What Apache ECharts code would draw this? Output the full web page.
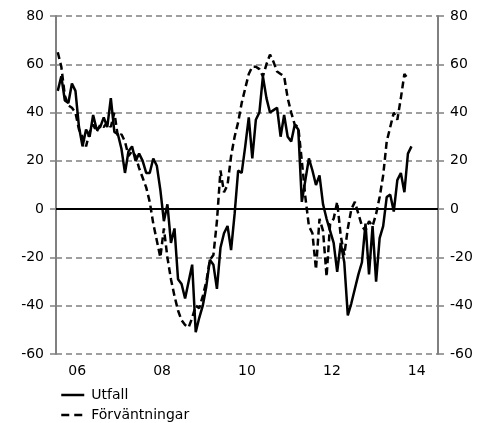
<!DOCTYPE html>
<html>
<head>
<meta charset="utf-8">
<script src="https://cdn.jsdelivr.net/npm/echarts@6/dist/echarts.min.js"></script>
<style>
  html, body { margin: 0; padding: 0; background: #fff; }
  #chart { width: 489px; height: 423px; }
</style>
</head>
<body>
<div id="chart"></div>
<script>
// year labels under the axis (one category per year)
const years = ['06', '07', '08', '09', '10', '11', '12', '13', '14']

// monthly values from Jan 2006
const utfall = [
  49, 55, 45, 44, 52, 49, 34, 26, 33, 30, 39, 33,
  34, 38, 34, 46, 32, 31, 25, 15, 24, 26, 20, 23,
  20, 15, 15, 21, 18, 8, -5, 2, -14, -8, -29, -31,
  -37, -30, -23, -51, -45, -40, -32, -21, -23, -33, -16, -10,
  -7, -17, -2, 16, 15, 26, 38, 21, 37, 40, 55, 46,
  40, 41, 42, 30, 39, 30, 28, 35, 33, 3, 12, 21,
  16, 10, 14, 2, -4, -9, -14, -26, -14, -22, -44, -39,
  -33, -27, -22, -6, -27, -7, -30, -12, -7, 5, 6, -1,
  12, 15, 7, 23, 26
]
const forvantningar = [
  65, 59, 47, 43, 42, 40, 33, 30, 26, 32, 35, 32,
  35, 34, 36, 34, 40, 30, 31, 28, 22, 24, 22, 17,
  13, 9, 3, -6, -13, -20, -8, -20, -29, -36, -42, -46,
  -48, -49, -45, -40, -41, -36, -30, -21, -19, -5, 16, 7,
  10, 22, 30, 36, 44, 50, 56, 59, 59, 58, 55, 60,
  64, 61, 57, 56, 55, 46, 40, 35, 34, 20, 5, -7,
  -10, -25, -4, -9, -28, -6, -4, 3, -11, -19, -8, 0,
  3, -2, -7, -9, -5, -7, -2, 5, 14, 28, 34, 40,
  37, 46, 56, 54
]

const months = []
years.forEach(y => {
  for (let m = 1; m <= 12; m++) months.push(y + '-' + m)
})

const grey = '#808080'
const font = { fontFamily: 'DejaVu Sans', fontSize: 14, color: '#000' }

// one legend per row, symbol hidden so only the line sample shows
function legendRow(name, top, dash) {
  return {
    left: 60,
    top: top,
    padding: 0,
    itemWidth: 23,
    itemHeight: 14,
    itemGap: 0,
    textStyle: Object.assign({ padding: [0, 0, 0, 2] }, font),
    itemStyle: { opacity: 0 },
    lineStyle: { color: '#000', width: 2.5, type: dash },
    data: [name]
  }
}

const chart = echarts.init(document.getElementById('chart'))
chart.setOption({
  animation: false,
  grid: { left: 56, right: 51, top: 16, bottom: 69 },
  legend: [
    legendRow('Utfall', 388, 'solid'),
    legendRow('Förväntningar', 408, [8, 5])
  ],
  xAxis: [{
    type: 'category',
    data: years,
    boundaryGap: true,
    axisLine: { lineStyle: { color: grey, width: 2 } },
    axisTick: { interval: 0, length: 5, lineStyle: { color: grey, width: 1.5 } },
    axisLabel: Object.assign({ interval: 1, margin: 10 }, font),
    splitLine: { show: false }
  }, {
    type: 'category',
    data: months,
    boundaryGap: true,
    show: false
  }],
  yAxis: [{
    type: 'value',
    min: -60,
    max: 80,
    interval: 20,
    axisLine: { show: true, lineStyle: { color: grey, width: 2 } },
    axisTick: { show: true, length: 6, lineStyle: { color: grey, width: 1.5 } },
    axisLabel: Object.assign({ margin: 12 }, font),
    splitLine: { lineStyle: { color: grey, width: 1.5, type: [6, 4] } }
  }, {
    type: 'value',
    position: 'right',
    min: -60,
    max: 80,
    interval: 20,
    axisLine: { show: true, lineStyle: { color: grey, width: 2 } },
    axisTick: { show: true, length: 6, lineStyle: { color: grey, width: 1.5 } },
    axisLabel: Object.assign({ margin: 12 }, font),
    splitLine: { show: false }
  }],
  series: [{
    name: 'Utfall',
    type: 'line',
    xAxisIndex: 1,
    data: utfall,
    symbol: 'none',
    lineStyle: { color: '#000', width: 2.5 },
    itemStyle: { color: '#000' },
    markLine: {
      silent: true,
      symbol: 'none',
      label: { show: false },
      lineStyle: { color: '#000', width: 2, type: 'solid' },
      data: [{ yAxis: 0 }]
    },
    z: 3
  }, {
    name: 'Förväntningar',
    type: 'line',
    xAxisIndex: 1,
    data: forvantningar,
    symbol: 'none',
    lineStyle: { color: '#000', width: 2.5, type: [7, 4] },
    itemStyle: { color: '#000' },
    z: 2
  }]
})
</script>
</body>
</html>
